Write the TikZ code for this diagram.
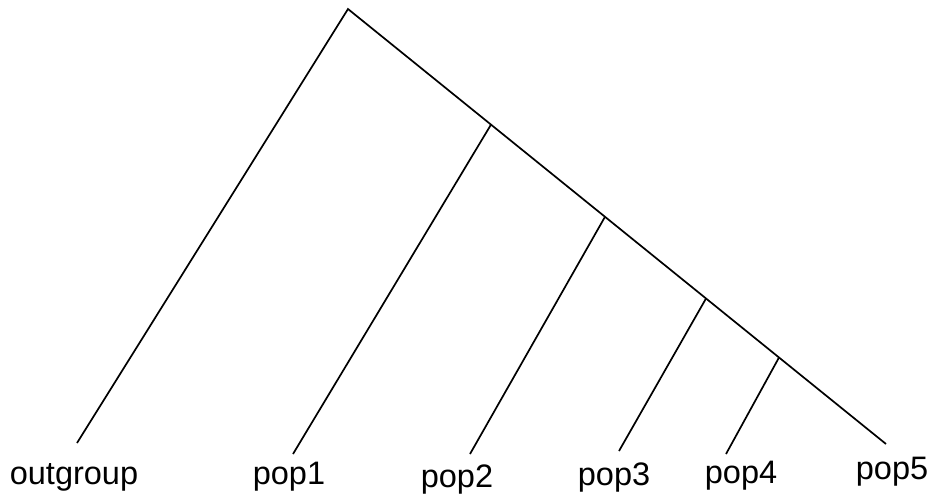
\documentclass[tikz,border=0pt]{standalone}
\usepackage{fontspec}
\setmainfont{Liberation Sans}
\begin{document}
\begin{tikzpicture}[x=1pt,y=-1pt,
  branch/.style={line width=1.7pt,black},
  leaflabel/.style={anchor=base,inner sep=0pt,font=\fontsize{32.5}{32.5}\selectfont}]
\useasboundingbox (0,0) rectangle (933,501);
\coordinate (root) at (348,9);
\coordinate (n1) at (491,124.6);
\coordinate (n2) at (605,216.8);
\coordinate (n3) at (706,298.5);
\coordinate (n4) at (779,357.5);
\coordinate (lout) at (77,443);
\coordinate (l1) at (293,454);
\coordinate (l2) at (470,454);
\coordinate (l3) at (619,451);
\coordinate (l4) at (726,454);
\coordinate (l5) at (886,444);
\draw[branch] (lout) -- (root) -- (l5);
\draw[branch] (n1) -- (l1);
\draw[branch] (n2) -- (l2);
\draw[branch] (n3) -- (l3);
\draw[branch] (n4) -- (l4);
\node[leaflabel] (tout) at (74,484) {outgroup};
\node[leaflabel] (t1) at (289,484) {pop1};
\node[leaflabel] (t2) at (457,487) {pop2};
\node[leaflabel] (t3) at (614,485) {pop3};
\node[leaflabel] (t4) at (741,483) {pop4};
\node[leaflabel] (t5) at (892,479) {pop5};
\end{tikzpicture}
\end{document}
